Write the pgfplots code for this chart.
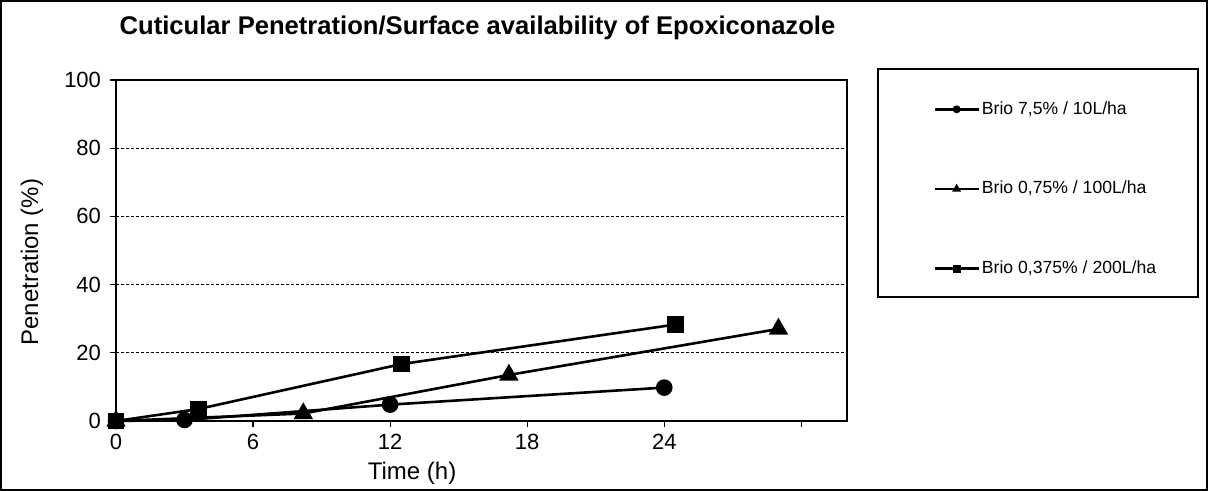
\documentclass[border=0pt]{standalone}
\usepackage{pgfplots}
\pgfplotsset{compat=1.18}
\usepackage{fontspec}
\setmainfont{Liberation Sans}
\begin{document}
\begin{tikzpicture}
\useasboundingbox (0,0) rectangle (604bp,245.5bp);
\draw[line width=1bp] (0.5bp,0.5bp) rectangle (603.5bp,245bp);
\node[font=\fontsize{12.8bp}{14bp}\selectfont\bfseries, anchor=base] at (238.75bp,228bp) {Cuticular Penetration/Surface availability of Epoxiconazole};
\draw[line width=0.8bp] (439bp,97bp) rectangle (599bp,211bp);
\begin{axis}[
  scale only axis, width=365.5bp, height=170.5bp,
  at={(58bp,35bp)}, anchor=south west,
  xmin=0, xmax=32, ymin=0, ymax=100,
  xtick={0,6,12,18,24,30}, xticklabels={0,6,12,18,24,{}},
  ytick={0,20,40,60,80,100},
  xtick pos=bottom, ytick pos=left,
  tick align=outside, major tick length=3bp,
  every tick/.style={black, line width=0.6bp},
  axis line style={line width=0.8bp},
  /pgf/number format/assume math mode=true,
  tick label style={font=\fontsize{11bp}{13bp}\selectfont},
  yticklabel style={xshift=-1bp},
  ymajorgrids,
  major grid style={black, line width=0.5bp, dash pattern=on 1.5bp off 1bp},
  xlabel={Time (h)}, ylabel={Penetration (\%)},
  label style={font=\fontsize{12bp}{14bp}\selectfont},
  xlabel style={at={(axis description cs:0.405,-0.173)}, anchor=base},
  ylabel style={at={(axis description cs:-0.115,0.466)}, anchor=center},
  clip=false,
  legend cell align=left,
  legend style={draw=none, fill=none, inner sep=0pt,
    at={(axis description cs:1.1176,0.950)}, anchor=north west,
    font=\fontsize{8.8bp}{10bp}\selectfont, row sep=28bp,
    nodes={inner xsep=1bp}},
  legend image code/.code={\draw[mark repeat=2,mark phase=2,#1,mark size=1.3bp] plot coordinates {(0bp,0bp) (11bp,0bp) (22bp,0bp)};},
]
\addplot[black, line width=1.3bp, mark=*, mark size=3.5bp] coordinates {(0,0) (3,0.3) (12,4.8) (24,9.8)};
\addlegendentry{Brio 7,5\% / 10L/ha}
\addplot[black, line width=1.3bp, mark=triangle*, mark size=4.3bp] coordinates {(0,0) (8.2,2.2) (17.2,13.5) (29,27)};
\addlegendentry{Brio 0,75\% / 100L/ha}
\addplot[black, line width=1.3bp, mark=square*, mark size=3.5bp] coordinates {(0,0) (3.6,3.5) (12.5,16.7) (24.5,28.3)};
\addlegendentry{Brio 0,375\% / 200L/ha}
\end{axis}
\end{tikzpicture}
\end{document}
